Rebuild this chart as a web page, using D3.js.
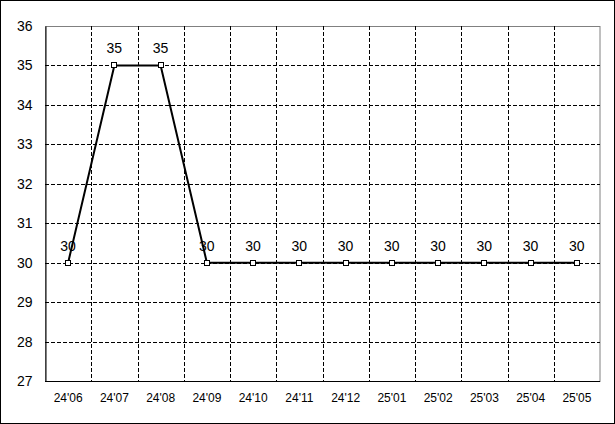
<!DOCTYPE html>
<html><head><meta charset="utf-8">
<script src="https://cdn.jsdelivr.net/npm/d3@7"></script>
<style>body{margin:0;background:#fff}svg{display:block}</style>
</head><body>
<script>
const categories = ["24'06","24'07","24'08","24'09","24'10","24'11","24'12","25'01","25'02","25'03","25'04","25'05"];
const values = [30,35,35,30,30,30,30,30,30,30,30,30];
const yTicks = [27,28,29,30,31,32,33,34,35,36];

const W = 615, H = 424;
const m = {left:45, right:15, top:26, bottom:43};
const svg = d3.select("body").append("svg").attr("width",W).attr("height",H);
svg.append("rect").attr("x",0.5).attr("y",0.5).attr("width",W-1).attr("height",H-1)
  .attr("fill","#fff").attr("stroke","#000");

const x = d3.scaleBand().domain(categories).range([m.left, W-m.right]).padding(0);
const y = d3.scaleLinear().domain([27,36]).range([H-m.bottom, m.top]);
const font = "'Liberation Sans', Arial, sans-serif";

// plot frame (top/right gray)
svg.append("rect").attr("x",m.left+0.5).attr("y",m.top+0.5)
  .attr("width",W-m.right-m.left-0.5).attr("height",H-m.bottom-m.top)
  .attr("fill","none").attr("stroke","#808080");

// horizontal grid
svg.append("g").selectAll("line").data(yTicks.filter(t=>t>27&&t<36)).join("line")
  .attr("x1",m.left).attr("x2",W-m.right)
  .attr("y1",d=>Math.round(y(d))+0.5).attr("y2",d=>Math.round(y(d))+0.5)
  .attr("stroke","#000").attr("stroke-dasharray","4,2");
// vertical grid
svg.append("g").selectAll("line").data(categories.slice(1)).join("line")
  .attr("x1",d=>Math.round(x(d))+0.5).attr("x2",d=>Math.round(x(d))+0.5)
  .attr("y1",m.top).attr("y2",H-m.bottom)
  .attr("stroke","#000").attr("stroke-dasharray","4,2");

// axes
const ya = svg.append("g").attr("transform",`translate(${m.left+0.5},0)`)
  .call(d3.axisLeft(y).tickValues(yTicks).tickSize(0).tickPadding(13).tickFormat(d3.format("d")));
ya.select(".domain").attr("stroke","#000");
const xa = svg.append("g").attr("transform",`translate(0,${H-m.bottom+0.5})`)
  .call(d3.axisBottom(x).tickSize(0).tickPadding(12));
xa.select(".domain").attr("stroke","#000").attr("d",`M${m.left},0H${W-m.right}`);
svg.selectAll(".tick text").attr("font-family",font).attr("fill","#000");
ya.selectAll("text").attr("font-size",14);
xa.selectAll("text").attr("font-size",12);

// line
const cx = d=>x(d)+x.bandwidth()/2;
svg.append("path").datum(values)
  .attr("d",d3.line().x((d,i)=>cx(categories[i])).y(d=>y(d)))
  .attr("fill","none").attr("stroke","#000").attr("stroke-width",2);
svg.append("g").selectAll("rect").data(values).join("rect")
  .attr("x",(d,i)=>Math.round(cx(categories[i]))-2.5).attr("y",d=>Math.round(y(d))-2.5)
  .attr("width",5).attr("height",5).attr("fill","#fff").attr("stroke","#000");
svg.append("g").selectAll("text").data(values).join("text")
  .attr("x",(d,i)=>cx(categories[i])).attr("y",d=>y(d)-12)
  .attr("text-anchor","middle").attr("font-family",font).attr("font-size",14)
  .text(d=>d);
</script>
</body></html>
